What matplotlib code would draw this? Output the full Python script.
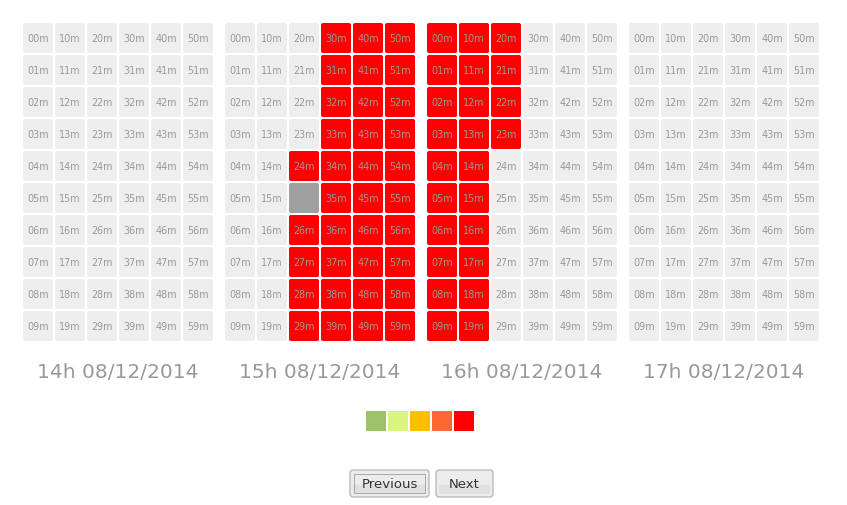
import matplotlib
matplotlib.use("Agg")
import matplotlib.pyplot as plt
from matplotlib.patches import FancyBboxPatch, Rectangle

# ---------------- data ----------------
panel_titles = ["14h 08/12/2014", "15h 08/12/2014", "16h 08/12/2014", "17h 08/12/2014"]
n_cols = 6   # tens of minutes
n_rows = 10  # units of minutes
# status codes per panel: list of (col, row) -> 'red' / 'gray'; everything else 'empty'
red_cells_15h = [(3, r) for r in range(10)] + [(4, r) for r in range(10)] + \
                [(5, r) for r in range(10)] + [(2, 4), (2, 6), (2, 7), (2, 8), (2, 9)]
gray_cells_15h = [(2, 5)]
red_cells_16h = [(0, r) for r in range(10)] + [(1, r) for r in range(10)] + \
                [(2, 0), (2, 1), (2, 2), (2, 3)]
panel_red = [[], red_cells_15h, red_cells_16h, []]
panel_gray = [[], gray_cells_15h, [], []]
legend_colors = ["#9dc26a", "#d9f580", "#ffbf00", "#ff6633", "#ff0000"]
buttons = ["Previous", "Next"]

# ---------------- layout ----------------
W, H = 847, 505
fig = plt.figure(figsize=(W / 100, H / 100), dpi=100)
ax = fig.add_axes([0, 0, 1, 1])
ax.set_xlim(0, W)
ax.set_ylim(H, 0)
ax.axis("off")

cell = 30
step = 32
panel_x0 = 23
panel_step = 202
top = 23

for p, title in enumerate(panel_titles):
    x0 = panel_x0 + p * panel_step
    reds = set(panel_red[p])
    grays = set(panel_gray[p])
    for c in range(n_cols):
        for r in range(n_rows):
            x = x0 + c * step
            y = top + r * step
            if (c, r) in reds:
                fc = "#ff0000"
            elif (c, r) in grays:
                fc = "#a0a0a0"
            else:
                fc = "#eeeeee"
            ax.add_patch(FancyBboxPatch((x + 1.5, y + 1.5), cell - 3, cell - 3,
                                        boxstyle="round,pad=1.5,rounding_size=2",
                                        fc=fc, ec="none"))
            if (c, r) not in grays:
                ax.text(x + cell / 2, y + cell / 2 + 0.5, f"{c}{r}m", ha="center", va="center",
                        fontsize=6.9, color="#999999", family="DejaVu Sans")
    ax.text(x0 + (n_cols * step - 2) / 2, 373, title, ha="center", va="center",
            fontsize=14.5, color="#999999", family="DejaVu Sans")

# legend squares
lx0, ly0, ls = 366, 411, 20
for i, col in enumerate(legend_colors):
    ax.add_patch(Rectangle((lx0 + i * (ls + 2), ly0), ls, ls, fc=col, ec="none"))

# buttons
btn_specs = [(350, 470, 79, 27), (436, 470, 57, 27)]
for (bx, by, bw, bh), label in zip(btn_specs, buttons):
    ax.add_patch(FancyBboxPatch((bx + 2, by + 2), bw - 4, bh - 4,
                                boxstyle="round,pad=2,rounding_size=3",
                                fc="#ececec", ec="#b5b5b5", lw=0.9))
    ax.add_patch(FancyBboxPatch((bx + 3, by + bh / 2 + 1), bw - 6, bh / 2 - 4,
                                boxstyle="round,pad=0,rounding_size=2",
                                fc="#e0e0e0", ec="none"))
    if label == "Previous":
        ax.add_patch(Rectangle((bx + 4, by + 4), bw - 8, bh - 8, fc="none",
                               ec="#a8a8a8", lw=0.7))
    ax.text(bx + bw / 2, by + bh / 2 + 1, label, ha="center", va="center",
            fontsize=9.5, color="#333333", family="DejaVu Sans")

fig.savefig("out.png", dpi=100)
